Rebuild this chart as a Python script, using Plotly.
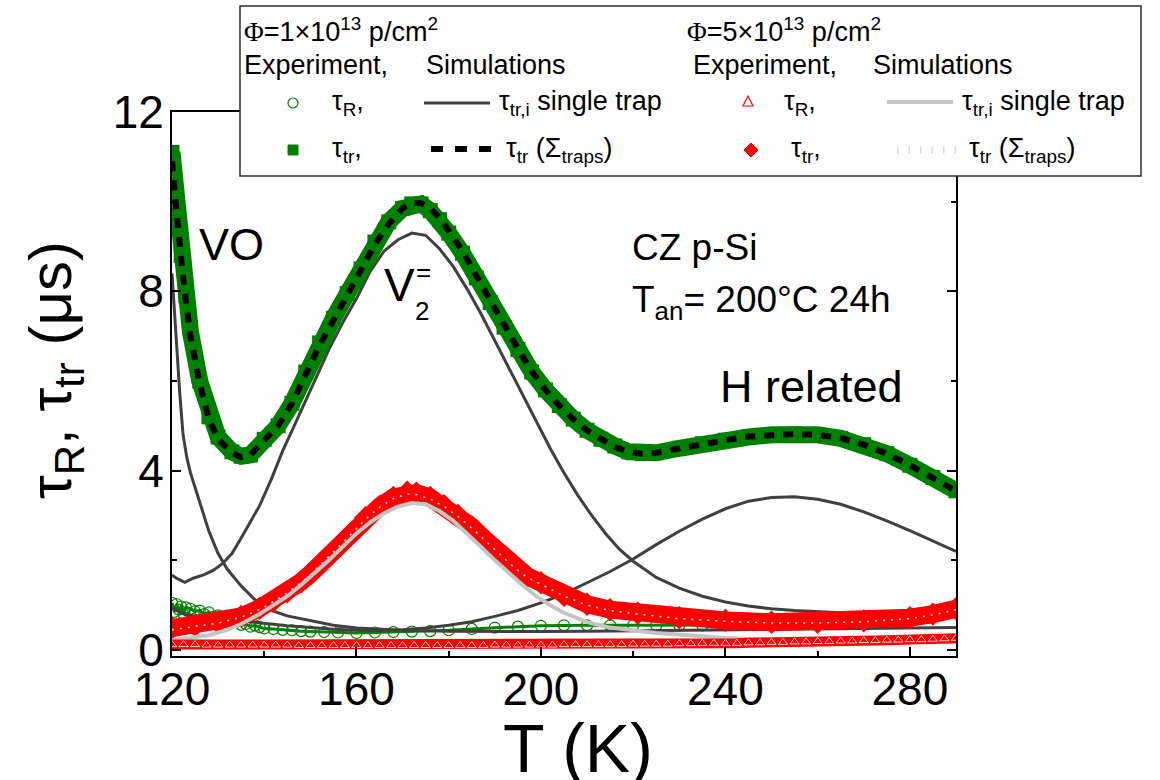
import plotly.graph_objects as go

# ---------------- data ----------------
# Phi = 1e13: experiment tau_tr (green squares) and simulated sum (black dashed)
T_g = [120, 121, 122, 123, 124, 126, 128, 130, 133, 135, 137, 140, 143, 146, 149, 152, 155, 158, 161, 164,
       167, 170, 172, 174, 176, 178, 180, 183, 186, 189, 192, 195, 198, 201, 204, 207, 210, 213, 216, 219,
       222, 225, 230, 235, 240, 245, 250, 255, 260, 265, 270, 275, 280, 285, 290]
tr_1e13 = [11.1, 9.9, 8.8, 7.9, 7.1, 6.0, 5.2, 4.75, 4.42, 4.32, 4.35, 4.7, 5.0, 5.5, 6.2, 6.85, 7.4, 7.95, 8.5, 9.1,
           9.55, 9.85, 9.95, 9.95, 9.8, 9.6, 9.3, 8.85, 8.3, 7.75, 7.2, 6.7, 6.2, 5.8, 5.45, 5.15, 4.9, 4.7, 4.55, 4.42,
           4.38, 4.4, 4.5, 4.6, 4.68, 4.75, 4.8, 4.82, 4.8, 4.72, 4.58, 4.38, 4.12, 3.85, 3.55]
sum_1e13 = [10.9, 9.7, 8.7, 7.8, 7.0, 5.95, 5.15, 4.7, 4.4, 4.3, 4.35, 4.68, 5.0, 5.5, 6.15, 6.8, 7.35, 7.9, 8.45, 9.05,
            9.5, 9.85, 9.97, 9.97, 9.85, 9.65, 9.35, 8.9, 8.35, 7.8, 7.25, 6.72, 6.22, 5.8, 5.45, 5.15, 4.9, 4.7, 4.53, 4.42,
            4.38, 4.4, 4.5, 4.6, 4.68, 4.76, 4.8, 4.82, 4.8, 4.73, 4.58, 4.38, 4.12, 3.85, 3.55]

# Phi = 1e13: experiment tau_R (green open circles)
T_gc = [120, 120.5, 121, 121.5, 122, 122.5, 123, 124, 125, 126, 127, 128, 129, 130, 131, 132, 133, 134, 135, 136,
        137, 138, 139, 140, 142, 144, 146, 148, 150, 153, 156, 160, 164, 168, 172, 176, 180, 185, 190, 195,
        200, 205, 210, 215, 220, 225, 230, 235, 240, 245, 250, 255, 260, 265, 270, 275, 280, 285, 290]
R_1e13 = [1.05, 0.85, 1.02, 0.9, 0.97, 0.8, 0.95, 0.92, 0.86, 0.88, 0.8, 0.84, 0.74, 0.77, 0.68, 0.7, 0.62, 0.63, 0.56, 0.58,
          0.52, 0.55, 0.51, 0.48, 0.47, 0.45, 0.44, 0.42, 0.41, 0.4, 0.39, 0.38, 0.39, 0.4, 0.41, 0.42, 0.44, 0.47, 0.5, 0.52,
          0.54, 0.55, 0.55, 0.55, 0.55, 0.55, 0.55, 0.55, 0.56, 0.58, 0.6, 0.61, 0.63, 0.65, 0.68, 0.72, 0.8, 0.87, 0.93]

# Phi = 1e13: single-trap simulations (dark grey)
T_vo = [120, 120.5, 121, 121.7, 122.4, 123.2, 124, 125, 126, 128, 130, 132, 135, 138, 141, 145, 150, 155, 160, 170,
        180, 190, 200, 210, 220, 230, 240, 250, 260, 270, 280, 290]
VO = [8.4, 7.6, 6.7, 5.7, 4.8, 4.3, 3.95, 3.6, 3.3, 2.65, 2.15, 1.8, 1.43, 1.12, 0.9, 0.76, 0.65, 0.55, 0.49, 0.44,
      0.42, 0.41, 0.41, 0.42, 0.43, 0.44, 0.45, 0.46, 0.47, 0.48, 0.49, 0.5]
T_v2 = [120, 121, 122.8, 124.6, 127, 129, 131, 133, 135, 137, 139, 141.5, 144, 146.5, 149, 151.5, 154, 157, 160, 163,
        166, 169, 172, 175, 178, 181, 184, 187, 190, 193, 196, 199, 202, 205, 208, 211, 214, 217, 220, 225,
        230, 235, 240, 245, 250, 255, 260, 265, 270, 275, 280, 285, 290]
V2 = [1.67, 1.6, 1.51, 1.6, 1.68, 1.78, 1.93, 2.15, 2.5, 2.85, 3.22, 3.8, 4.44, 5.0, 5.56, 6.15, 6.7, 7.3, 7.84, 8.45,
      8.9, 9.15, 9.3, 9.25, 8.95, 8.55, 8.05, 7.5, 6.9, 6.3, 5.7, 5.1, 4.5, 3.95, 3.45, 3.0, 2.6, 2.25, 1.98, 1.62,
      1.38, 1.2, 1.07, 0.98, 0.92, 0.88, 0.85, 0.83, 0.82, 0.82, 0.83, 0.84, 0.85]
T_h = [120, 123, 128, 133, 139, 145, 150, 155, 160, 165, 170, 175, 180, 185, 190, 195, 200, 205, 210, 215,
       220, 225, 230, 235, 240, 245, 250, 255, 260, 265, 270, 275, 280, 285, 290]
H_rel = [0.93, 0.78, 0.73, 0.67, 0.6, 0.54, 0.5, 0.46, 0.44, 0.43, 0.45, 0.49, 0.55, 0.63, 0.75, 0.88, 1.05, 1.25, 1.5, 1.75,
         2.03, 2.35, 2.65, 2.92, 3.15, 3.32, 3.4, 3.42, 3.36, 3.25, 3.08, 2.88, 2.66, 2.43, 2.2]

# Phi = 5e13: experiment tau_tr (red diamonds) and simulated sum (light dotted)
T_r = [120, 125, 130, 135, 139, 142, 145, 148, 150, 153, 156, 159, 162, 165, 168, 171, 173, 176, 179, 182,
       185, 188, 191, 194, 197, 200, 205, 210, 215, 221, 230, 240, 250, 260, 270, 280, 285, 290]
tr_5e13 = [0.49, 0.55, 0.62, 0.75, 0.93, 1.1, 1.3, 1.52, 1.7, 2.0, 2.3, 2.62, 2.95, 3.2, 3.4, 3.52, 3.5, 3.4, 3.22, 3.0,
           2.75, 2.45, 2.15, 1.88, 1.65, 1.5, 1.22, 1.02, 0.9, 0.82, 0.72, 0.66, 0.62, 0.62, 0.65, 0.72, 0.8, 0.92]
sum_5e13 = [0.45, 0.52, 0.6, 0.73, 0.9, 1.08, 1.28, 1.5, 1.68, 1.98, 2.28, 2.6, 2.92, 3.18, 3.38, 3.48, 3.47, 3.37, 3.2, 2.98,
            2.72, 2.43, 2.13, 1.86, 1.62, 1.47, 1.2, 1.0, 0.88, 0.8, 0.7, 0.64, 0.6, 0.6, 0.63, 0.7, 0.78, 0.9]

# Phi = 5e13: single-trap simulation (light grey)
T_lg = [120, 124, 128, 132, 135, 139, 142, 145, 148, 151, 154, 157, 160, 163, 166, 169, 172, 175, 178, 181,
        184, 187, 190, 193, 196, 199, 202, 205, 210, 215, 220, 225, 232, 240, 250, 260, 270, 280, 290]
single_5e13 = [0.22, 0.27, 0.33, 0.45, 0.58, 0.8, 1.0, 1.2, 1.45, 1.72, 2.0, 2.3, 2.6, 2.85, 3.05, 3.2, 3.28, 3.25, 3.1, 2.88,
               2.6, 2.3, 2.0, 1.72, 1.45, 1.2, 1.0, 0.83, 0.62, 0.5, 0.43, 0.38, 0.33, 0.27, 0.23, 0.2, 0.19, 0.18, 0.18]

# Phi = 5e13: experiment tau_R (red open triangles)
T_rt = [120, 122.5, 125, 127.5, 130, 132.5, 135, 137.5, 140, 142.5, 145, 147.5, 150, 152.5, 155, 157.5, 160, 162.5, 165, 167.5,
        170, 172.5, 175, 177.5, 180, 182.5, 185, 187.5, 190, 192.5, 195, 197.5, 200, 202.5, 205, 207.5, 210, 212.5, 215, 217.5,
        220, 222.5, 225, 227.5, 230, 232.5, 235, 237.5, 240, 242.5, 245, 247.5, 250, 252.5, 255, 257.5, 260, 262.5, 265, 267.5,
        270, 272.5, 275, 277.5, 280, 282.5, 285, 287.5, 290]
R_5e13 = [0.12, 0.12, 0.12, 0.11, 0.11, 0.11, 0.11, 0.11, 0.11, 0.11, 0.11, 0.1, 0.1, 0.1, 0.1, 0.1, 0.1, 0.1, 0.1, 0.1,
          0.1, 0.1, 0.1, 0.1, 0.1, 0.1, 0.1, 0.1, 0.11, 0.11, 0.11, 0.11, 0.11, 0.11, 0.12, 0.12, 0.12, 0.12, 0.12, 0.12,
          0.13, 0.13, 0.13, 0.13, 0.14, 0.14, 0.15, 0.15, 0.15, 0.15, 0.16, 0.16, 0.17, 0.17, 0.18, 0.18, 0.19, 0.19, 0.2, 0.2,
          0.21, 0.21, 0.22, 0.22, 0.23, 0.23, 0.24, 0.25, 0.26]

x_ticks = [120, 160, 200, 240, 280]
y_ticks = [0, 4, 8, 12]

# ---------------- styling ----------------
FONT = "Liberation Sans, Arial, sans-serif"
GREEN = "#008000"
RED = "#ff0000"
DGREY = "#404040"
LGREY = "#c4c4c4"

L, R, T, B = 172, 956, 112, 656
W, H = 1160, 780


def px(x):
    return (x - L) / (R - L)


def py(y):
    return (B - y) / (B - T)


fig = go.Figure()

# green open circles tau_R
fig.add_trace(go.Scatter(x=T_gc, y=R_1e13, mode="lines+markers",
                         line=dict(color=GREEN, width=3),
                         marker=dict(symbol="circle-open", size=11, color=GREEN, line=dict(width=1.2))))
# dark grey single traps
for xs, ys in [(T_vo, VO), (T_v2, V2), (T_h, H_rel)]:
    fig.add_trace(go.Scatter(x=xs, y=ys, mode="lines", line=dict(color=DGREY, width=3)))
# red diamonds tau_tr
fig.add_trace(go.Scatter(x=T_r, y=tr_5e13, mode="lines+markers",
                         line=dict(color=RED, width=18),
                         marker=dict(symbol="diamond", size=18, color=RED)))
# light grey single trap
fig.add_trace(go.Scatter(x=T_lg, y=single_5e13, mode="lines", line=dict(color=LGREY, width=4)))
# red open triangles tau_R
fig.add_trace(go.Scatter(x=T_rt, y=R_5e13, mode="lines+markers",
                         line=dict(color=RED, width=10),
                         marker=dict(symbol="triangle-up-open", size=8, color="white", line=dict(width=0.8, color="white"))))
# green squares tau_tr
fig.add_trace(go.Scatter(x=T_g, y=tr_1e13, mode="lines+markers",
                         line=dict(color=GREEN, width=17),
                         marker=dict(symbol="square", size=15, color=GREEN)))
# black dashed sum
fig.add_trace(go.Scatter(x=T_g, y=sum_1e13, mode="lines",
                         line=dict(color="black", width=6, dash="10px,9px")))
# light dotted sum (5e13)
fig.add_trace(go.Scatter(x=T_r, y=sum_5e13, mode="lines",
                         line=dict(color="#e8e8e8", width=1.5, dash="2px,6px")))

axis_common = dict(showline=True, linecolor="black", linewidth=2, mirror="ticks",
                   ticks="inside", tickcolor="black", tickwidth=1.5, ticklen=9,
                   showgrid=False, zeroline=False,
                   tickfont=dict(family=FONT, size=46, color="black"))

fig.update_xaxes(range=[120, 290], tickvals=x_ticks, ticktext=[str(v) for v in x_ticks],
                 minor=dict(tickvals=[140, 180, 220, 260], ticks="inside", ticklen=5, tickwidth=1.5, tickcolor="black"),
                 ticklabelstandoff=-8, **axis_common)
fig.update_yaxes(range=[-0.134, 12], tickvals=y_ticks, ticktext=[str(v) for v in y_ticks],
                 minor=dict(tickvals=[2, 6, 10], ticks="inside", ticklen=5, tickwidth=1.5, tickcolor="black"),
                 ticklabelstandoff=-3, **axis_common)

shapes = []
annotations = []


def ann(text, x, y, size, xanchor="left", yanchor="middle", angle=0, family=FONT):
    annotations.append(dict(text=text, x=px(x), y=py(y), xref="paper", yref="paper",
                            xanchor=xanchor, yanchor=yanchor, showarrow=False, textangle=angle,
                            font=dict(family=family, size=size, color="black")))


# axis titles
ann("T (K)", 578, 748, 68, xanchor="center")
ann("τ<sub>R</sub>, τ<sub>tr</sub> (μs)", 55, 370, 60, xanchor="center", angle=-90)

# in-plot labels
ann("VO", 197, 244, 45)
ann("V", 382, 285, 46)
ann("2", 413, 311, 26)
ann("=", 414, 272, 26)
ann("CZ p-Si", 630, 247, 37)
ann("T<sub>an</sub>= 200°C 24h", 630, 302, 37)
ann("H related", 718, 386, 45)

# legend box
shapes.append(dict(type="rect", xref="paper", yref="paper", x0=px(240), x1=px(1141), y0=py(176), y1=py(6),
                   line=dict(color="#303030", width=1.5), fillcolor="white", layer="above"))

LS = 27
phi = '<span style="font-family:Liberation Serif">Φ</span>'
ann(phi + "=1×10<sup>13</sup> p/cm<sup>2</sup>", 242, 30, LS)
ann("Experiment,", 242, 65, LS)
ann("Simulations", 424, 65, LS)
ann("τ<sub>R</sub>,", 330, 103, LS)
ann("τ<sub>tr,i</sub> single trap", 497, 103, LS)
ann("τ<sub>tr</sub>,", 330, 150, LS)
ann("τ<sub>tr</sub> (Σ<sub>traps</sub>)", 504, 150, LS)

ann(phi + "=5×10<sup>13</sup> p/cm<sup>2</sup>", 685, 30, LS)
ann("Experiment,", 691, 65, LS)
ann("Simulations", 871, 65, LS)
ann("τ<sub>R</sub>,", 782, 103, LS)
ann("τ<sub>tr,i</sub> single trap", 960, 103, LS)
ann("τ<sub>tr</sub>,", 789, 150, LS)
ann("τ<sub>tr</sub> (Σ<sub>traps</sub>)", 967, 150, LS)


def pshape(**kw):
    d = dict(xref="paper", yref="paper", layer="above")
    d.update(kw)
    shapes.append(d)


# legend glyphs
pshape(type="circle", x0=px(288), x1=px(298), y0=py(108), y1=py(98), line=dict(color=GREEN, width=1.2))
pshape(type="rect", x0=px(288), x1=px(298), y0=py(155), y1=py(145), line=dict(color=GREEN, width=1), fillcolor=GREEN)
pshape(type="line", x0=px(424), x1=px(490), y0=py(103), y1=py(103), line=dict(color=DGREY, width=3))
pshape(type="line", x0=px(431), x1=px(495), y0=py(149), y1=py(149), line=dict(color="black", width=6, dash="12px,12px"))


def path_px(points):
    return "M " + " L ".join(f"{px(a):.5f},{py(b):.5f}" for a, b in points) + " Z"


pshape(type="path", path=path_px([(743, 106), (753, 106), (748, 96)]), line=dict(color=RED, width=1.2))
pshape(type="path", path=path_px([(751, 143), (758, 150), (751, 157), (744, 150)]), line=dict(color=RED, width=1), fillcolor=RED)
pshape(type="line", x0=px(887), x1=px(953), y0=py(102), y1=py(102), line=dict(color=LGREY, width=4))
pshape(type="line", x0=px(897), x1=px(960), y0=py(150), y1=py(150), line=dict(color="#dcdcdc", width=7, dash="1.5px,10px"))

fig.update_layout(width=W, height=H, showlegend=False,
                  margin=dict(l=L, r=W - R, t=T, b=H - B, autoexpand=False),
                  plot_bgcolor="white", paper_bgcolor="white",
                  shapes=shapes, annotations=annotations,
                  font=dict(family=FONT, color="black"))

fig.write_html("out.html", config={"displayModeBar": False},
               post_script="document.body.style.margin='0';document.body.style.overflow='hidden';")
